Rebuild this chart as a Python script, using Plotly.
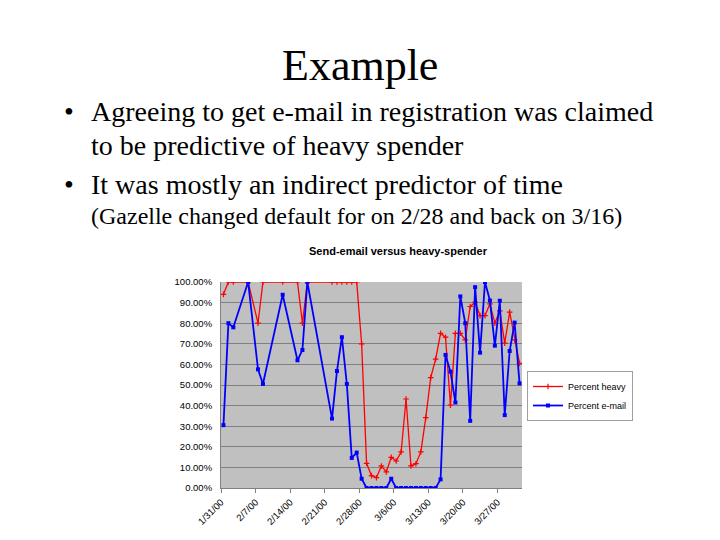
import plotly.graph_objects as go

# ---- data ----
dates = [
    "2000-01-31", "2000-02-01", "2000-02-02", "2000-02-05", "2000-02-07",
    "2000-02-08", "2000-02-12", "2000-02-15", "2000-02-16", "2000-02-17",
    "2000-02-22", "2000-02-23", "2000-02-24", "2000-02-25", "2000-02-26",
    "2000-02-27", "2000-02-28", "2000-02-29", "2000-03-01", "2000-03-02",
    "2000-03-03", "2000-03-04", "2000-03-05", "2000-03-06", "2000-03-07",
    "2000-03-08", "2000-03-09", "2000-03-10", "2000-03-11", "2000-03-12",
    "2000-03-13", "2000-03-14", "2000-03-15", "2000-03-16", "2000-03-17",
    "2000-03-18", "2000-03-19", "2000-03-20", "2000-03-21", "2000-03-22",
    "2000-03-23", "2000-03-24", "2000-03-25", "2000-03-26", "2000-03-27",
    "2000-03-28", "2000-03-29", "2000-03-30", "2000-03-31",
]
percent_heavy = [
    94, 100, 100, 100, 80, 100, 100, 100, 80, 100,
    100, 100, 100, 100, 100, 100, 70, 12, 6, 5,
    10.7, 7.8, 14.9, 13.1, 17.5, 43.2, 10.7, 11.8, 17.5, 34.2,
    53.6, 62.6, 75.1, 73.2, 40.2, 75.1, 75.1, 71.9, 88.1, 90.2,
    83.7, 83.7, 89.4, 80, 86, 70.3, 85.4, 71.9, 60.5,
]
percent_email = [
    30.5, 80, 78, 100, 57.6, 50.5, 93.8, 62, 67, 100,
    33.7, 56.8, 73.2, 50.5, 14.6, 17.2, 4.5, 0, 0, 0,
    0, 0, 4.5, 0, 0, 0, 0, 0, 0, 0,
    0, 0, 4.2, 64.6, 56.5, 41.5, 93, 80, 32.6, 97.5,
    65.7, 100, 91, 69.1, 90.9, 35.4, 66.5, 80.3, 50.8,
]
tick_dates = ["2000-01-31", "2000-02-07", "2000-02-14", "2000-02-21", "2000-02-28",
              "2000-03-06", "2000-03-13", "2000-03-20", "2000-03-27"]
tick_labels = ["1/31/00", "2/7/00", "2/14/00", "2/21/00", "2/28/00",
               "3/6/00", "3/13/00", "3/20/00", "3/27/00"]
y_ticks = [0, 10, 20, 30, 40, 50, 60, 70, 80, 90, 100]

W, H = 720, 540
OFF = 8  # page body margin offset
def px(x):
    return (x - OFF) / W
def py(y):
    return 1 - (y - OFF) / H

fig = go.Figure()
fig.add_trace(go.Scatter(
    x=dates, y=percent_heavy, name="Percent heavy", mode="lines+markers",
    xperiod=86400000, xperiodalignment="middle",
    line=dict(color="#FF0000", width=1.3),
    marker=dict(symbol="cross-thin", size=4, line=dict(color="#FF0000", width=1.2)),
))
fig.add_trace(go.Scatter(
    x=dates, y=percent_email, name="Percent e-mail", mode="lines+markers",
    xperiod=86400000, xperiodalignment="middle",
    line=dict(color="#0000FF", width=1.8),
    marker=dict(symbol="square", size=4, color="#0000FF"),
))

serif = "Liberation Serif, Times New Roman, serif"
sans = "Liberation Sans, Arial, sans-serif"

ann = [
    dict(text="Example", x=px(360), y=py(66), font=dict(family=serif, size=44, color="black"),
         xanchor="center", yanchor="middle"),
    dict(text="•", x=px(69), y=py(111), font=dict(family=serif, size=28, color="black"),
         xanchor="center", yanchor="middle"),
    dict(text="Agreeing to get e-mail in registration was claimed", x=px(89), y=py(111),
         font=dict(family=serif, size=28, color="black"), xanchor="left", yanchor="middle"),
    dict(text="to be predictive of heavy spender", x=px(89), y=py(145),
         font=dict(family=serif, size=28, color="black"), xanchor="left", yanchor="middle"),
    dict(text="•", x=px(69), y=py(185), font=dict(family=serif, size=28, color="black"),
         xanchor="center", yanchor="middle"),
    dict(text="It was mostly an indirect predictor of time", x=px(89), y=py(185),
         font=dict(family=serif, size=28, color="black"), xanchor="left", yanchor="middle"),
    dict(text="(Gazelle changed default for on 2/28 and back on 3/16)", x=px(89), y=py(216),
         font=dict(family=serif, size=24, color="black"), xanchor="left", yanchor="middle"),
    dict(text="<b>Send-email versus heavy-spender</b>", x=px(398), y=py(251),
         font=dict(family=sans, size=11, color="black"), xanchor="center", yanchor="middle"),
]
for a in ann:
    a.update(xref="paper", yref="paper", showarrow=False)

fig.update_layout(
    width=W, height=H,
    margin=dict(l=0, r=0, t=0, b=0, pad=0, autoexpand=False),
    paper_bgcolor="white", plot_bgcolor="#C0C0C0",
    showlegend=True,
    legend=dict(x=px(527), y=py(371), xanchor="left", yanchor="top",
                bgcolor="white", bordercolor="#A0A0A0", borderwidth=1,
                font=dict(family=sans, size=9, color="black"),
                itemwidth=30, tracegroupgap=0),
    annotations=ann,
    xaxis=dict(domain=[px(221), px(522)], type="date", automargin=False,
               range=["2000-01-31", "2000-04-01"],
               tickvals=tick_dates, ticktext=tick_labels, tickangle=-45,
               ticks="outside", ticklen=4, tickcolor="#808080",
               showline=True, linecolor="#808080", linewidth=1,
               showgrid=False, zeroline=False,
               tickfont=dict(family=sans, size=9.5, color="black")),
    yaxis=dict(domain=[py(488), py(282)], range=[0, 100], automargin=False,
               tickvals=y_ticks, ticktext=[f"{v:.2f}%" for v in y_ticks],
               showline=True, linecolor="#808080", linewidth=1,
               showgrid=True, gridcolor="#808080", gridwidth=1,
               zeroline=False, ticks="", ticklabelstandoff=6,
               tickfont=dict(family=sans, size=9.5, color="black")),
)

fig.write_html("out.html")
